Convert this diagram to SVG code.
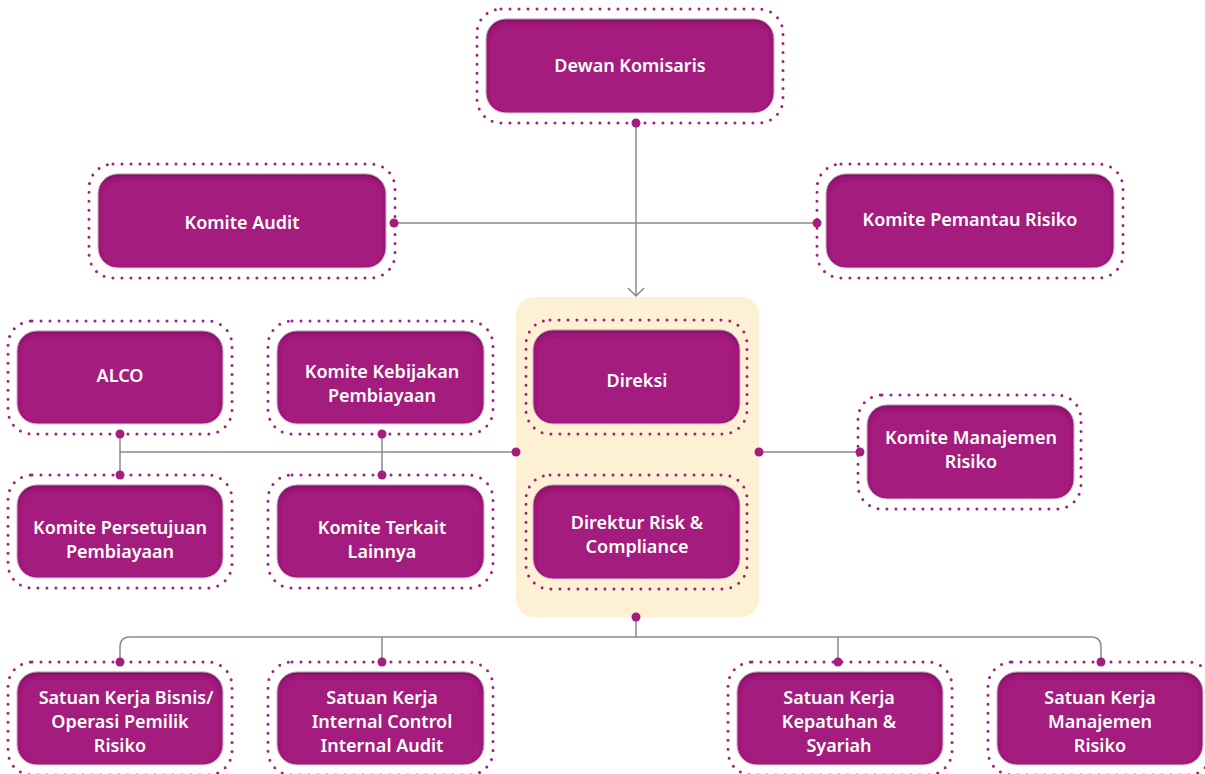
<svg xmlns="http://www.w3.org/2000/svg" width="1205" height="774" viewBox="0 0 1205 774">
  <defs>
    <filter id="inset" x="-5%" y="-10%" width="110%" height="120%">
      <feOffset in="SourceAlpha" dy="3" result="off"/>
      <feGaussianBlur in="off" stdDeviation="2" result="blur"/>
      <feComposite in="SourceAlpha" in2="blur" operator="out" result="edge"/>
      <feFlood flood-color="#3d0630" flood-opacity="0.55"/>
      <feComposite in2="edge" operator="in" result="shadow"/>
      <feMerge><feMergeNode in="SourceGraphic"/><feMergeNode in="shadow"/></feMerge>
    </filter>
  </defs>
  <style>
    .box { fill: #A41F7D; stroke: #e6cfe0; stroke-width: 1; filter: url(#inset); }
    .ring { fill: none; stroke: #A41F7D; stroke-width: 3; stroke-linecap: round; stroke-dasharray: 0 9; }
    .lbl { fill: #ffffff; font-family: "Noto Sans", "Open Sans", sans-serif; font-weight: 600; font-size: 18px; text-anchor: middle; }
    .wire { fill: none; stroke: #8a8a8a; stroke-width: 1.5; }
    .pin { fill: #A41F7D; }
  </style>

  <rect x="0" y="0" width="1205" height="774" fill="#ffffff"/>

  <!-- board of directors panel -->
  <rect id="direksi-panel" x="516" y="297" width="243" height="320" rx="18" fill="#FEF1D3"/>

  <!-- connectors -->
  <g id="connectors">
    <path class="wire" d="M636,123 V296"/>
    <polyline class="wire" points="628,288 636,296 644,288"/>
    <path class="wire" d="M394,223 H817"/>
    <path class="wire" d="M516,452 H120"/>
    <path class="wire" d="M120,434 V475"/>
    <path class="wire" d="M382,434 V475"/>
    <path class="wire" d="M759,452 H860"/>
    <path class="wire" d="M636,617 V637"/>
    <path class="wire" d="M120,662 V647 Q120,637 130,637 H1091 Q1101,637 1101,647 V662"/>
    <path class="wire" d="M382,637 V662"/>
    <path class="wire" d="M838,637 V662"/>
    <circle class="pin" cx="636" cy="123" r="4.5"/>
    <circle class="pin" cx="394" cy="223" r="4.5"/>
    <circle class="pin" cx="817" cy="223" r="4.5"/>
    <circle class="pin" cx="120" cy="434" r="4.5"/>
    <circle class="pin" cx="120" cy="475" r="4.5"/>
    <circle class="pin" cx="382" cy="434" r="4.5"/>
    <circle class="pin" cx="382" cy="475" r="4.5"/>
    <circle class="pin" cx="516" cy="452" r="4.5"/>
    <circle class="pin" cx="759" cy="452" r="4.5"/>
    <circle class="pin" cx="860" cy="452" r="4.5"/>
    <circle class="pin" cx="636" cy="617" r="4.5"/>
    <circle class="pin" cx="120" cy="662" r="4.5"/>
    <circle class="pin" cx="382" cy="662" r="4.5"/>
    <circle class="pin" cx="838" cy="662" r="4.5"/>
    <circle class="pin" cx="1101" cy="662" r="4.5"/>
  </g>

  <g id="dewan-komisaris">
    <rect class="ring" x="477" y="9" width="306" height="114" rx="24"/>
    <rect class="box" x="486" y="19" width="288" height="94" rx="20"/>
    <text class="lbl" x="630" y="72">Dewan Komisaris</text>
  </g>

  <g id="komite-audit">
    <rect class="ring" x="89" y="164" width="306" height="114" rx="24"/>
    <rect class="box" x="98" y="174" width="288" height="94" rx="20"/>
    <text class="lbl" x="242" y="229">Komite Audit</text>
  </g>

  <g id="komite-pemantau-risiko">
    <rect class="ring" x="817" y="164" width="306" height="114" rx="24"/>
    <rect class="box" x="826" y="174" width="288" height="94" rx="20"/>
    <text class="lbl" x="970" y="226">Komite Pemantau Risiko</text>
  </g>

  <g id="alco">
    <rect class="ring" x="8" y="321" width="224" height="113" rx="24"/>
    <rect class="box" x="17" y="331" width="206" height="93" rx="20"/>
    <text class="lbl" x="120" y="382">ALCO</text>
  </g>

  <g id="komite-kebijakan-pembiayaan">
    <rect class="ring" x="268" y="321" width="225" height="113" rx="24"/>
    <rect class="box" x="277" y="331" width="207" height="93" rx="20"/>
    <text class="lbl" x="382" y="378">Komite Kebijakan</text>
    <text class="lbl" x="382" y="402">Pembiayaan</text>
  </g>

  <g id="direksi">
    <rect class="ring" x="526" y="320" width="221" height="114" rx="24"/>
    <rect class="box" x="533" y="330" width="207" height="94" rx="20"/>
    <text class="lbl" x="637" y="387">Direksi</text>
  </g>

  <g id="direktur-risk-compliance">
    <rect class="ring" x="526" y="475" width="221" height="114" rx="24"/>
    <rect class="box" x="533" y="485" width="207" height="94" rx="20"/>
    <text class="lbl" x="637" y="529">Direktur Risk &amp;</text>
    <text class="lbl" x="637" y="553">Compliance</text>
  </g>

  <g id="komite-persetujuan-pembiayaan">
    <rect class="ring" x="8" y="475" width="224" height="113" rx="24"/>
    <rect class="box" x="17" y="485" width="206" height="93" rx="20"/>
    <text class="lbl" x="120" y="534">Komite Persetujuan</text>
    <text class="lbl" x="120" y="558">Pembiayaan</text>
  </g>

  <g id="komite-terkait-lainnya">
    <rect class="ring" x="268" y="475" width="225" height="113" rx="24"/>
    <rect class="box" x="277" y="485" width="207" height="93" rx="20"/>
    <text class="lbl" x="382" y="534">Komite Terkait</text>
    <text class="lbl" x="382" y="558">Lainnya</text>
  </g>

  <g id="komite-manajemen-risiko">
    <rect class="ring" x="858" y="395" width="223" height="114" rx="24"/>
    <rect class="box" x="867" y="405" width="207" height="94" rx="20"/>
    <text class="lbl" x="971" y="444">Komite Manajemen</text>
    <text class="lbl" x="971" y="468">Risiko</text>
  </g>

  <g id="sk-bisnis-operasi">
    <rect class="ring" x="8" y="662" width="224" height="113" rx="24"/>
    <rect class="box" x="17" y="672" width="206" height="93" rx="20"/>
    <text class="lbl" x="126" y="704">Satuan Kerja Bisnis/</text>
    <text class="lbl" x="120" y="728">Operasi Pemilik</text>
    <text class="lbl" x="120" y="752">Risiko</text>
  </g>

  <g id="sk-internal-control-audit">
    <rect class="ring" x="268" y="662" width="225" height="113" rx="24"/>
    <rect class="box" x="277" y="672" width="207" height="93" rx="20"/>
    <text class="lbl" x="382" y="704">Satuan Kerja</text>
    <text class="lbl" x="382" y="728">Internal Control</text>
    <text class="lbl" x="382" y="752">Internal Audit</text>
  </g>

  <g id="sk-kepatuhan-syariah">
    <rect class="ring" x="728" y="662" width="224" height="113" rx="24"/>
    <rect class="box" x="737" y="672" width="206" height="93" rx="20"/>
    <text class="lbl" x="839" y="704">Satuan Kerja</text>
    <text class="lbl" x="839" y="728">Kepatuhan &amp;</text>
    <text class="lbl" x="839" y="752">Syariah</text>
  </g>

  <g id="sk-manajemen-risiko">
    <rect class="ring" x="988" y="662" width="224" height="113" rx="24"/>
    <rect class="box" x="997" y="672" width="206" height="93" rx="20"/>
    <text class="lbl" x="1100" y="704">Satuan Kerja</text>
    <text class="lbl" x="1100" y="728">Manajemen</text>
    <text class="lbl" x="1100" y="752">Risiko</text>
  </g>
</svg>
